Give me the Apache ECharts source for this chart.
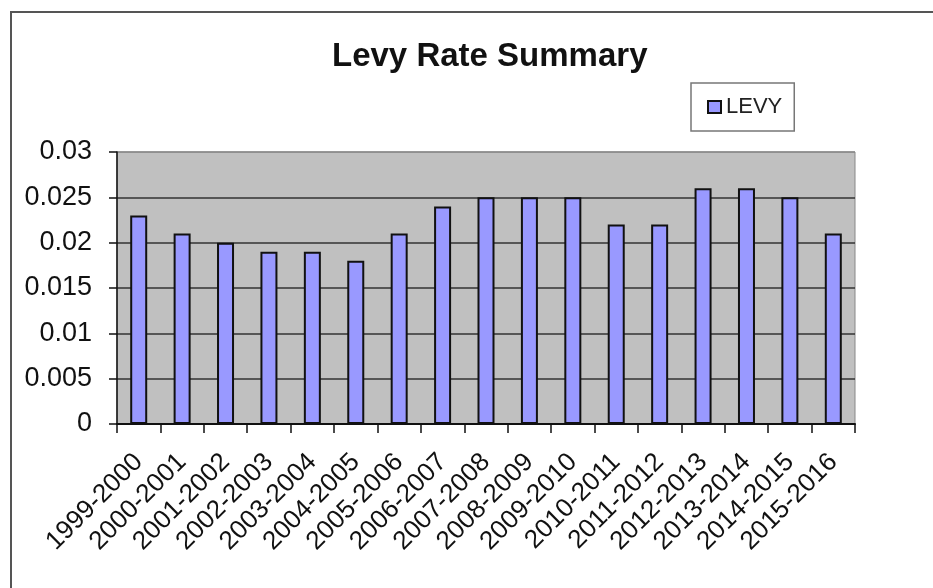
<!DOCTYPE html>
<html>
<head>
<meta charset="utf-8">
<script src="https://cdn.jsdelivr.net/npm/echarts@6/dist/echarts.min.js"></script>
<style>
  html, body { margin: 0; padding: 0; background: #fff; }
  #main { width: 933px; height: 588px; }
</style>
</head>
<body>
<div id="main"></div>
<script>
// levy rate per financial year
var years = ['1999-2000', '2000-2001', '2001-2002', '2002-2003', '2003-2004', '2004-2005',
  '2005-2006', '2006-2007', '2007-2008', '2008-2009', '2009-2010', '2010-2011',
  '2011-2012', '2012-2013', '2013-2014', '2014-2015', '2015-2016'];
var levy = [0.023, 0.021, 0.020, 0.019, 0.019, 0.018, 0.021, 0.024, 0.025,
  0.025, 0.025, 0.022, 0.022, 0.026, 0.026, 0.025, 0.021];

var font = '"Liberation Sans", Arial, sans-serif';

var myChart = echarts.init(document.getElementById('main'));
myChart.setOption({
  animation: false,
  backgroundColor: '#fff',
  textStyle: { fontFamily: font },
  graphic: [{
    type: 'rect',
    shape: { x: 11, y: 12, width: 940, height: 600 },
    style: { fill: 'none', stroke: '#555', lineWidth: 2 },
    silent: true
  }],
  title: {
    text: 'Levy Rate Summary',
    left: 332,
    top: 40,
    padding: 0,
    textStyle: { fontFamily: font, fontSize: 33, fontWeight: 'bold', color: '#111' }
  },
  legend: {
    left: 691,
    top: 83,
    padding: [13, 12, 13, 16],
    borderColor: '#777',
    borderWidth: 1.5,
    borderRadius: 0,
    itemWidth: 13,
    itemHeight: 12,
    itemGap: 5,
    textStyle: { fontFamily: font, fontSize: 22, color: '#222' },
    data: [{ name: 'LEVY', icon: 'rect' }]
  },
  grid: {
    left: 117,
    right: 78,
    top: 152,
    bottom: 164,
    show: true,
    backgroundColor: '#c0c0c0',
    borderColor: '#888',
    borderWidth: 1
  },
  xAxis: {
    type: 'category',
    data: years,
    axisLine: { lineStyle: { color: '#111', width: 2 } },
    axisTick: { show: true, length: 9, lineStyle: { color: '#111', width: 1.5 } },
    axisLabel: {
      interval: 0,
      rotate: 45,
      margin: 34,
      fontFamily: font,
      fontSize: 26,
      color: '#111'
    }
  },
  yAxis: {
    type: 'value',
    min: 0,
    max: 0.03,
    interval: 0.005,
    axisLine: { show: true, lineStyle: { color: '#111', width: 1.5 } },
    axisTick: { show: true, length: 8, lineStyle: { color: '#111', width: 1.5 } },
    axisLabel: { margin: 25, fontFamily: font, fontSize: 27, color: '#111' },
    splitLine: {
      lineStyle: { color: ['#111', '#333', '#333', '#333', '#333', '#333', '#888'], width: 1.5 }
    }
  },
  series: [{
    name: 'LEVY',
    type: 'bar',
    data: levy,
    barWidth: 17,
    itemStyle: { color: '#9999ff', borderColor: '#111', borderWidth: 2 }
  }]
});
</script>
</body>
</html>
